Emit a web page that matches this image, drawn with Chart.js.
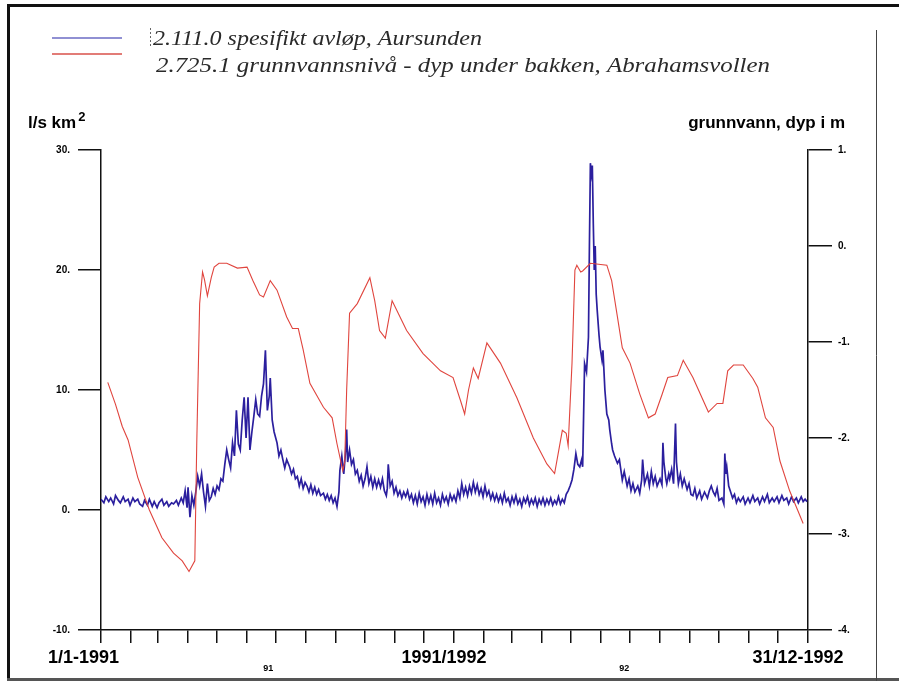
<!DOCTYPE html>
<html>
<head>
<meta charset="utf-8">
<script src="https://cdn.jsdelivr.net/npm/chart.js@4.4.1/dist/chart.umd.min.js"></script>
<style>
html,body{margin:0;padding:0;background:#fff;overflow:hidden;}
#c{display:block;}
</style>
</head>
<body>
<canvas id="c" width="899" height="681" style="width:899px;height:681px"></canvas>
<script>
// ---- Data (day index from 1/1-1991) ----
const monthTicks = [0,31,59,90,120,151,181,212,243,273,304,334,365,396,425,456,486,517,547,578,609,639,670,700,731];
const majorLabels = {0:'1/1-1991   ', 365:'1991/1992', 731:'31/12-1992'};
const yearLabels = [{day:173, text:'91'}, {day:541, text:'92'}];
const leftTicks = [-10, 0, 10, 20, 30];
const leftTickLabels = ['-10.', '0.', '10.', '20.', '30.'];
const rightTicks = [-4, -3, -2, -1, 0, 1];
const rightTickLabels = ['-4.', '-3.', '-2.', '-1.', '0.', '1.'];
const legendLabels = ['2.111.0 spesifikt avløp, Aursunden', '2.725.1 grunnvannsnivå - dyp under bakken, Abrahamsvollen'];
const leftTitle = 'l/s km';
const leftTitleSup = '2';
const rightTitle = 'grunnvann, dyp i m';

// specific runoff, l/s km2  [day, value]
const flowPoints = [
[0,0.9],[3,0.6],[5,1.1],[8,0.7],[10,1.0],[13,0.5],[15,1.2],[18,0.8],[20,0.6],[23,1.1],[25,0.7],[28,0.9],[30,0.4],[33,1.0],[35,0.7],[38,0.9],[40,0.5],[43,0.3],[45,0.8],[48,0.4],[50,0.9],[53,0.3],[55,0.7],[58,0.2],[60,0.6],[63,0.9],[65,0.4],[68,0.7],[70,0.3],[73,0.6],[75,0.5],[78,0.8],[80,0.4],[83,1.0],[85,0.6],[87,1.6],[89,0.2],[90,1.9],[92,-0.6],[94,1.2],[96,0.4],[98,1.5],[100,2.8],[102,2.0],[104,3.0],[106,1.5],[108,0.3],[110,2.2],[112,0.8],[114,1.1],[116,1.8],[118,1.3],[120,2.0],[122,1.7],[124,2.6],[126,2.4],[128,3.8],[130,5.0],[132,4.2],[134,3.5],[136,5.6],[138,4.5],[140,8.3],[142,5.5],[144,5.0],[146,7.5],[148,9.4],[150,6.0],[152,9.4],[154,5.0],[156,6.5],[158,7.8],[160,9.2],[162,8.0],[164,7.8],[166,9.5],[168,10.5],[170,13.3],[172,8.3],[174,9.5],[175,11.0],[177,7.5],[179,6.5],[182,5.6],[184,4.5],[186,5.0],[188,4.2],[190,3.5],[192,4.2],[195,3.6],[197,3.0],[199,3.4],[201,2.6],[203,2.8],[205,2.0],[207,2.6],[209,1.8],[211,2.3],[213,2.0],[215,1.5],[217,2.1],[219,1.4],[221,1.9],[223,1.3],[225,1.7],[227,1.2],[230,1.4],[232,0.9],[234,1.3],[236,0.8],[238,1.2],[240,0.6],[242,1.0],[244,0.3],[246,1.5],[247,3.3],[249,4.5],[251,3.0],[253,5.0],[254,6.7],[255,4.0],[257,5.0],[259,3.8],[261,4.2],[263,3.0],[265,3.3],[267,2.4],[269,2.9],[271,2.0],[273,2.6],[275,3.6],[277,2.2],[279,2.8],[281,1.9],[283,2.6],[285,1.9],[287,2.5],[289,1.9],[291,2.6],[293,1.6],[295,1.2],[296,1.8],[297,3.8],[299,2.0],[301,2.4],[303,1.4],[305,1.9],[307,1.2],[309,1.6],[311,1.0],[313,1.5],[315,1.1],[317,1.6],[319,0.9],[321,1.3],[323,0.6],[325,1.2],[327,0.5],[329,1.4],[331,0.7],[333,1.1],[335,0.4],[337,1.3],[339,0.6],[341,1.2],[343,0.5],[345,1.4],[347,0.6],[349,1.0],[351,0.4],[353,1.3],[355,0.7],[357,1.1],[359,0.5],[361,1.3],[363,0.8],[365,1.2],[367,0.7],[369,1.6],[371,1.0],[373,2.2],[375,1.3],[377,1.9],[379,1.2],[381,2.0],[383,1.4],[385,2.3],[387,1.5],[389,2.1],[391,1.3],[393,1.8],[395,1.1],[397,2.0],[399,1.2],[401,1.6],[403,0.9],[405,1.4],[407,0.8],[409,1.3],[411,0.7],[413,1.2],[415,0.6],[417,1.4],[419,0.7],[421,1.0],[423,0.4],[425,1.1],[427,0.6],[429,1.2],[431,0.5],[433,0.9],[435,0.3],[437,1.0],[439,0.6],[441,1.1],[443,0.4],[445,0.9],[447,0.5],[449,1.0],[451,0.3],[453,0.9],[455,0.5],[457,1.0],[459,0.4],[461,0.9],[463,0.5],[465,1.0],[467,0.4],[469,0.8],[471,0.5],[473,1.1],[475,0.5],[477,0.9],[479,0.6],[481,1.3],[483,1.6],[485,2.0],[487,2.5],[489,3.4],[491,4.7],[493,3.8],[495,3.6],[497,4.2],[498,3.6],[500,12.2],[502,11.5],[504,14.4],[505,22.0],[506,28.9],[507,28.0],[508,28.7],[509,23.9],[510,20.0],[511,22.0],[512,18.0],[513,16.7],[515,14.5],[516,13.6],[518,12.5],[519,13.3],[521,10.0],[523,8.0],[525,7.5],[526,6.7],[528,5.5],[529,5.0],[531,4.5],[534,3.9],[536,4.2],[539,2.5],[541,3.2],[544,2.0],[546,2.6],[548,1.6],[550,2.2],[552,1.5],[555,2.0],[557,1.4],[559,2.5],[560,4.2],[562,2.2],[565,3.0],[567,2.0],[569,3.2],[571,2.2],[573,2.8],[575,2.0],[578,2.6],[580,2.1],[581,5.6],[582,4.0],[584,2.6],[585,2.2],[587,3.0],[588,2.6],[590,3.4],[592,2.2],[594,7.2],[595,4.0],[597,2.2],[599,3.0],[601,2.0],[603,2.6],[606,1.7],[608,2.2],[610,1.3],[612,1.2],[614,1.8],[616,1.0],[619,1.6],[621,0.9],[624,1.5],[627,1.0],[629,1.6],[631,2.0],[633,1.5],[635,1.2],[637,1.8],[639,0.8],[642,1.0],[644,0.5],[645,4.7],[646,3.0],[647,3.6],[649,2.0],[651,1.5],[653,1.0],[655,1.3],[657,0.6],[659,1.0],[661,0.7],[664,1.1],[666,0.5],[669,1.0],[671,0.6],[674,1.2],[676,0.7],[679,1.0],[681,0.5],[684,1.1],[686,0.7],[689,1.3],[691,0.6],[694,1.0],[696,0.7],[699,1.1],[701,0.6],[704,1.2],[706,0.8],[709,1.0],[711,0.5],[714,1.1],[716,0.7],[719,1.0],[721,0.6],[724,1.1],[726,0.7],[728,0.9],[730,0.7]
];

// groundwater level, depth in m  [day, value]
const groundPoints = [
[7,-1.42],[15,-1.65],[22,-1.88],[28,-2.02],[38,-2.41],[50,-2.75],[63,-3.04],[75,-3.2],[84,-3.28],[91,-3.39],[97,-3.28],[99,-2.06],[102,-0.6],[105,-0.27],[107,-0.35],[110,-0.52],[114,-0.33],[117,-0.22],[122,-0.18],[130,-0.18],[141,-0.23],[151,-0.22],[157,-0.36],[164,-0.51],[168,-0.53],[175,-0.36],[182,-0.46],[192,-0.74],[198,-0.86],[204,-0.86],[209,-1.08],[216,-1.43],[230,-1.68],[239,-1.79],[244,-2.06],[250,-2.34],[252,-2.25],[254,-1.5],[257,-0.70],[265,-0.6],[278,-0.33],[283,-0.57],[288,-0.88],[294,-0.96],[301,-0.57],[316,-0.88],[333,-1.12],[351,-1.30],[364,-1.37],[372,-1.62],[376,-1.75],[380,-1.5],[385,-1.27],[390,-1.38],[399,-1.01],[413,-1.22],[430,-1.58],[447,-2.0],[461,-2.27],[469,-2.37],[477,-1.92],[481,-1.95],[483,-2.08],[487,-1.22],[490,-0.25],[492,-0.2],[496,-0.27],[498,-0.26],[506,-0.18],[523,-0.2],[528,-0.36],[534,-0.74],[539,-1.06],[547,-1.22],[557,-1.54],[566,-1.79],[573,-1.75],[580,-1.55],[586,-1.37],[596,-1.35],[602,-1.19],[612,-1.37],[628,-1.73],[637,-1.64],[643,-1.64],[648,-1.30],[654,-1.24],[664,-1.24],[674,-1.38],[679,-1.47],[687,-1.79],[695,-1.89],[702,-2.24],[712,-2.55],[726,-2.89]
];

const SANS = '"Liberation Sans", Arial, sans-serif';
const SERIF = '"Liberation Serif", "Times New Roman", serif';

const decor = {
  id: 'decor',
  beforeDraw(chart) {
    const c = chart.ctx;
    c.save();
    c.fillStyle = '#fff';
    c.fillRect(0, 0, chart.width, chart.height);
    c.fillStyle = '#111';
    c.fillRect(7, 4, 892, 3);
    c.fillRect(7, 4, 3, 676);
    c.fillStyle = '#555';
    c.fillRect(7, 678, 892, 3);
    c.strokeStyle = '#444';
    c.lineWidth = 1;
    c.beginPath(); c.moveTo(876.5, 30); c.lineTo(876.5, 681); c.stroke();
    c.restore();
  },
  afterDraw(chart) {
    const c = chart.ctx;
    c.save();
    c.lineWidth = 1.5;
    c.strokeStyle = '#6b6bc4';
    c.beginPath(); c.moveTo(52, 38); c.lineTo(122, 38); c.stroke();
    c.strokeStyle = '#d9504a';
    c.beginPath(); c.moveTo(52, 54); c.lineTo(122, 54); c.stroke();
    c.strokeStyle = '#666';
    c.lineWidth = 1;
    c.setLineDash([2, 2]);
    c.beginPath(); c.moveTo(150.5, 28); c.lineTo(150.5, 48); c.stroke();
    c.setLineDash([]);
    c.fillStyle = '#2a2a2a';
    c.font = 'italic 22px ' + SERIF;
    c.textBaseline = 'alphabetic';
    c.textAlign = 'left';
    const w1 = c.measureText(legendLabels[0]).width;
    const w2 = c.measureText(legendLabels[1]).width;
    c.save(); c.translate(153, 45); c.scale(329 / w1, 1); c.fillText(legendLabels[0], 0, 0); c.restore();
    c.save(); c.translate(156, 72); c.scale(614 / w2, 1); c.fillText(legendLabels[1], 0, 0); c.restore();
    c.fillStyle = '#000';
    c.font = 'bold 17px ' + SANS;
    c.fillText(leftTitle, 28, 128);
    const tw = c.measureText(leftTitle).width;
    c.font = 'bold 13px ' + SANS;
    c.fillText(leftTitleSup, 28 + tw + 2, 121);
    c.font = 'bold 17px ' + SANS;
    c.textAlign = 'right';
    c.fillText(rightTitle, 845, 128);
    const xs = chart.scales.x;
    c.textAlign = 'center';
    c.font = 'bold 9px ' + SANS;
    yearLabels.forEach(l => c.fillText(l.text, xs.getPixelForValue(l.day), 671));
    c.restore();
  }
};

new Chart(document.getElementById('c'), {
  type: 'line',
  data: {
    datasets: [
      {
        label: legendLabels[1],
        data: groundPoints.map(p => ({x: p[0], y: p[1]})),
        yAxisID: 'y2',
        borderColor: '#e0453e',
        borderWidth: 1.1,
        pointRadius: 0,
        tension: 0,
        order: 0
      },
      {
        label: legendLabels[0],
        data: flowPoints.map(p => ({x: p[0], y: p[1]})),
        yAxisID: 'y',
        borderColor: '#2b1f9e',
        borderWidth: 1.7,
        pointRadius: 0,
        tension: 0,
        order: 1
      }
    ]
  },
  options: {
    responsive: false,
    animation: false,
    devicePixelRatio: 1,
    layout: { padding: { top: 150, left: 0, right: 0, bottom: 0 } },
    plugins: { legend: { display: false }, title: { display: false }, tooltip: { enabled: false } },
    scales: {
      x: {
        type: 'linear', min: 0, max: 731, position: 'bottom',
        afterBuildTicks: s => { s.ticks = monthTicks.map(v => ({ value: v })); },
        afterFit: s => { s.height = 51; },
        grid: { drawOnChartArea: false, drawTicks: true, tickLength: 13, color: '#111', lineWidth: 1.5 },
        border: { display: true, color: '#111', width: 1.5 },
        ticks: {
          autoSkip: false, maxRotation: 0, minRotation: 0, labelOffset: -10, padding: 4,
          color: '#000', font: { family: SANS, size: 18, weight: 'bold' },
          callback: v => majorLabels[v] || ''
        }
      },
      y: {
        type: 'linear', position: 'left', min: -10, max: 30,
        afterBuildTicks: s => { s.ticks = leftTicks.map(v => ({ value: v })); },
        afterFit: s => { s.width = 101; },
        grid: { drawOnChartArea: false, drawTicks: true, tickLength: 23, color: '#111', lineWidth: 1.5 },
        border: { display: true, color: '#111', width: 1.5 },
        ticks: {
          padding: 8, color: '#000', font: { family: SANS, size: 10, weight: 'bold' },
          callback: v => leftTickLabels[leftTicks.indexOf(v)]
        }
      },
      y2: {
        type: 'linear', position: 'right', min: -4, max: 1,
        afterBuildTicks: s => { s.ticks = rightTicks.map(v => ({ value: v })); },
        afterFit: s => { s.width = 91; },
        grid: { drawOnChartArea: false, drawTicks: true, tickLength: 24, color: '#111', lineWidth: 1.5 },
        border: { display: true, color: '#111', width: 1.5 },
        ticks: {
          padding: 6, color: '#000', font: { family: SANS, size: 10, weight: 'bold' },
          callback: v => rightTickLabels[rightTicks.indexOf(v)]
        }
      }
    }
  },
  plugins: [decor]
});
</script>
</body>
</html>
